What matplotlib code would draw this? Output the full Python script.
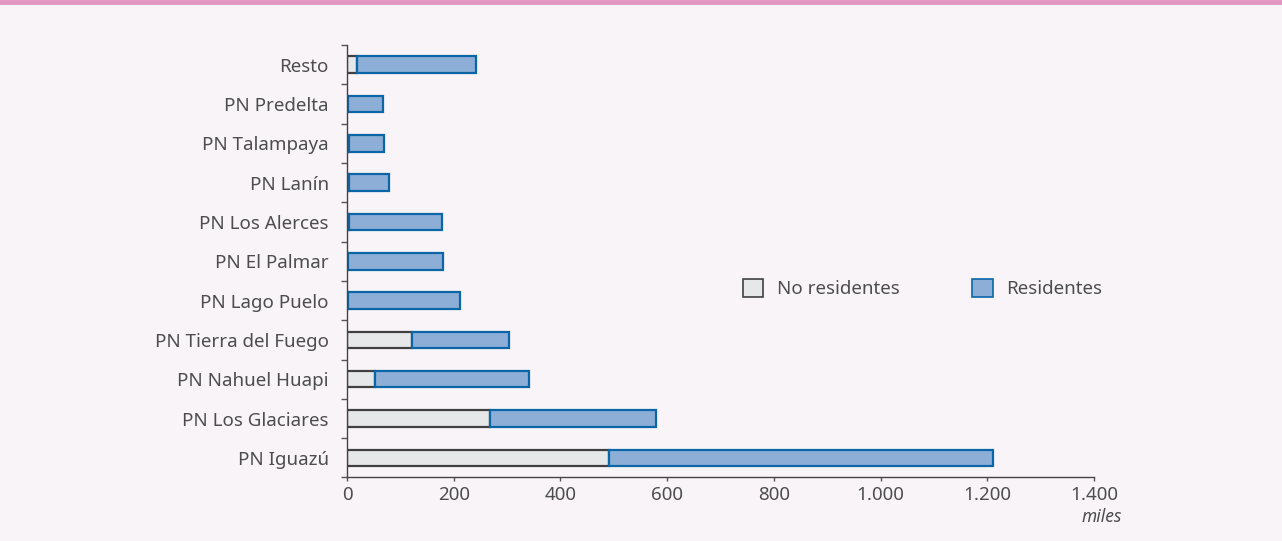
import numpy as np
import matplotlib.pyplot as plt
from matplotlib.patches import Patch

plt.rcParams['font.family'] = ['Noto Sans', 'DejaVu Sans']

categorias = ['PN Iguazú', 'PN Los Glaciares', 'PN Nahuel Huapi', 'PN Tierra del Fuego',
              'PN Lago Puelo', 'PN El Palmar', 'PN Los Alerces', 'PN Lanín',
              'PN Talampaya', 'PN Predelta', 'Resto']
no_residentes = [491, 268, 52, 122, 2, 1, 4, 3, 4, 1, 19]
residentes = [719, 311, 289, 181, 210, 179, 174, 76, 65, 66, 222]

xticks = [0, 200, 400, 600, 800, 1000, 1200, 1400]
xlabels = ['0', '200', '400', '600', '800', '1.000', '1.200', '1.400']

bg = '#F9F4F8'
gris_txt = '#4D4D4F'
fs = 13.5

fig = plt.figure(figsize=(12.82, 5.41), dpi=100, facecolor=bg)
ax = fig.add_axes([0.2707, 0.1174, 0.5827, 0.7994])
ax.set_facecolor(bg)

# linea rosa arriba
fig.add_artist(plt.Line2D([0, 1], [0.9965, 0.9965], color='#E396C4', lw=3.5,
                          transform=fig.transFigure))

y = np.arange(len(categorias))
ax.barh(y, no_residentes, height=0.42, color='#E6E7E8', edgecolor='#404040', lw=1.6,
        label='No residentes')
ax.barh(y, residentes, left=no_residentes, height=0.42, color='#8DAED6',
        edgecolor='#0A66A6', lw=1.6, label='Residentes')

ax.set_ylim(-0.5, len(categorias) - 0.5)
ax.set_xlim(0, 1400)
ax.set_yticks(y)
ax.set_yticklabels(categorias)
ax.set_yticks(np.arange(-0.5, len(categorias)), minor=True)
ax.tick_params(axis='y', which='major', length=0, pad=13, labelsize=fs, labelcolor=gris_txt)
ax.tick_params(axis='y', which='minor', length=4, width=1, color='#555555')
ax.set_xticks(xticks)
ax.set_xticklabels(xlabels)
ax.tick_params(axis='x', length=3, width=1, color='#555555', labelsize=fs,
               labelcolor=gris_txt, pad=3)

for s in ['top', 'right']:
    ax.spines[s].set_visible(False)
for s in ['left', 'bottom']:
    ax.spines[s].set_color('#444444')
    ax.spines[s].set_linewidth(1)

ax.annotate('miles', xy=(1, 0), xycoords='axes fraction', xytext=(28, -40),
            textcoords='offset pixels', ha='right', va='center', style='italic',
            fontsize=12.5, color=gris_txt)

handles = [Patch(facecolor='#E6E7E8', edgecolor='#404040', lw=1.2),
           Patch(facecolor='#8DAED6', edgecolor='#0A66A6', lw=1.2)]
fig.legend(handles, ['No residentes', 'Residentes'], ncol=2, frameon=False,
           loc='center', bbox_to_anchor=(0.7196, 0.467), fontsize=fs,
           handlelength=1.1, handleheight=1.1, handletextpad=0.7, columnspacing=3.9,
           labelcolor=gris_txt)

fig.savefig('out.png', dpi=100, facecolor=bg)
